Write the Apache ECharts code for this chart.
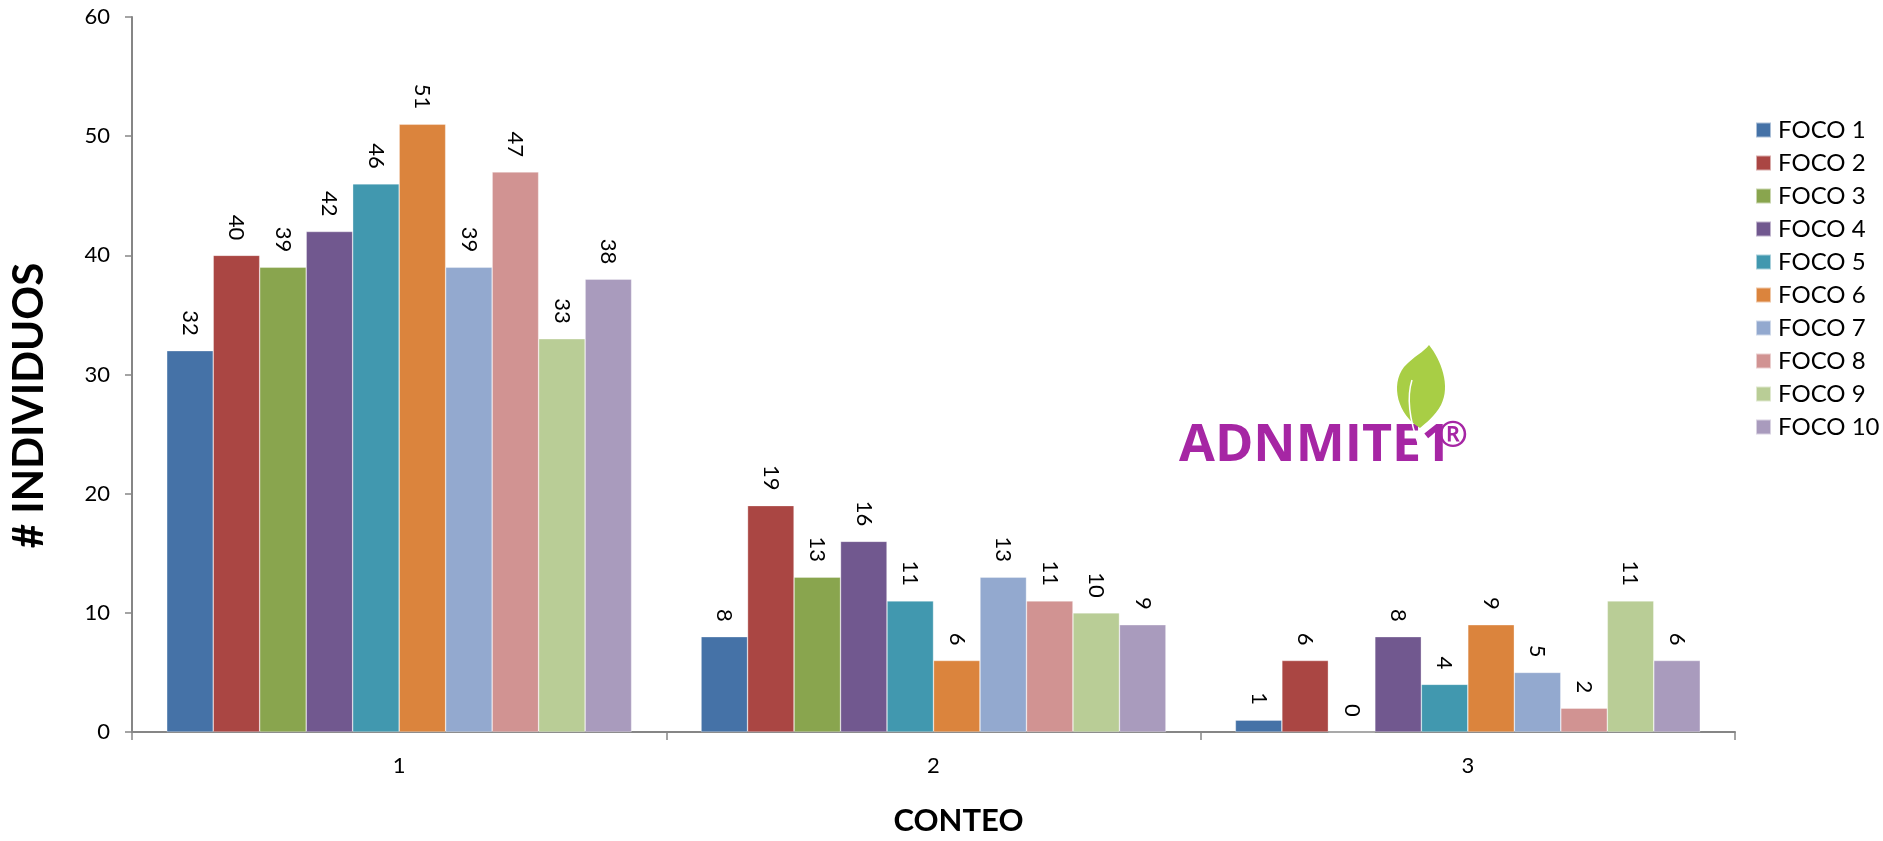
<!DOCTYPE html>
<html>
<head>
<meta charset="utf-8">
<script src="https://cdn.jsdelivr.net/npm/echarts@6.0.0/dist/echarts.min.js"></script>
<style>
  html, body { margin: 0; padding: 0; background: #fff; }
  #chart { width: 1883px; height: 841px; }
</style>
</head>
<body>
<div id="chart"></div>
<script>
const categories = ["1", "2", "3"];
const seriesNames = ["FOCO 1", "FOCO 2", "FOCO 3", "FOCO 4", "FOCO 5", "FOCO 6", "FOCO 7", "FOCO 8", "FOCO 9", "FOCO 10"];
const foco1 = [32, 8, 1];
const foco2 = [40, 19, 6];
const foco3 = [39, 13, 0];
const foco4 = [42, 16, 8];
const foco5 = [46, 11, 4];
const foco6 = [51, 6, 9];
const foco7 = [39, 13, 5];
const foco8 = [47, 11, 2];
const foco9 = [33, 10, 11];
const foco10 = [38, 9, 6];
const seriesValues = [foco1, foco2, foco3, foco4, foco5, foco6, foco7, foco8, foco9, foco10];
const yTicks = [0, 10, 20, 30, 40, 50, 60];

const colors = ["#4572A7", "#AA4643", "#89A54E", "#71588F", "#4198AF", "#DB843D", "#93A9CF", "#D19392", "#B9CD96", "#A99BBD"];
const FONT = "Lato, 'Open Sans', sans-serif";

// leaf of the logo
const LeafShape = echarts.graphic.extendPath(
  "M1420 428 C1398 415 1390 385 1404 367 C1414 356 1424 352 1429 345 C1441 360 1451 386 1441 405 C1435 416 1426 423 1420 428 Z",
  {}
);
echarts.graphic.registerShape("adnLeaf", LeafShape);

const chart = echarts.init(document.getElementById("chart"), null, { renderer: "canvas" });

const series = seriesNames.map((name, i) => ({
  name,
  type: "bar",
  data: seriesValues[i],
  barGap: "0%",
  barCategoryGap: "13%",
  itemStyle: { color: colors[i], borderColor: "rgba(255,255,255,0.55)", borderWidth: 0.6 },
  label: {
    show: true,
    position: "top",
    distance: 15,
    rotate: -90,
    align: "right",
    verticalAlign: "middle",
    color: "#000",
    fontSize: 22,
    fontFamily: FONT
  }
}));

chart.setOption({
  animation: false,
  color: colors,
  textStyle: { fontFamily: FONT },
  grid: { left: 130, right: 148, top: 17, bottom: 101, containLabel: false },
  legend: {
    orient: "vertical",
    left: 1750,
    top: 113,
    itemWidth: 15,
    itemHeight: 15,
    itemGap: 9,
    icon: "rect",
    data: seriesNames,
    textStyle: { fontSize: 24, color: "#000", fontFamily: FONT, padding: [0, 0, 0, 2] }
  },
  xAxis: {
    type: "category",
    data: categories,
    name: "CONTEO",
    nameLocation: "middle",
    nameGap: 73,
    nameTextStyle: { fontSize: 31, fontWeight: "bold", color: "#000", fontFamily: FONT, padding: [0, 0, 0, 50] },
    axisLine: { lineStyle: { color: "#868686", width: 2 } },
    axisTick: { show: true, alignWithLabel: false, length: 8, lineStyle: { color: "#868686", width: 1.5 } },
    axisLabel: { fontSize: 22, color: "#000", margin: 23, fontFamily: FONT },
    splitLine: { show: false }
  },
  yAxis: {
    type: "value",
    min: yTicks[0],
    max: yTicks[yTicks.length - 1],
    interval: 10,
    name: "# INDIVIDUOS",
    nameLocation: "middle",
    nameRotate: 90,
    nameGap: 82,
    nameTextStyle: { fontSize: 42, fontWeight: "bold", color: "#000", fontFamily: FONT, padding: [0, 62, 0, 0] },
    axisLine: { show: true, lineStyle: { color: "#868686", width: 2 } },
    axisTick: { show: true, length: 7, lineStyle: { color: "#868686", width: 1.5 } },
    axisLabel: { fontSize: 22, color: "#000", margin: 22, fontFamily: FONT },
    splitLine: { show: false }
  },
  graphic: [
    {
      type: "text",
      z: 4,
      x: 1179,
      y: 446,
      style: { text: "ADNMITE1", fill: "#A626A4", font: "bold 52px 'Open Sans', sans-serif", align: "left", verticalAlign: "middle" }
    },
    {
      type: "text",
      z: 4,
      x: 1453,
      y: 437,
      style: { text: "®", fill: "#A626A4", font: "bold 36px 'Open Sans', sans-serif", align: "center", verticalAlign: "middle" }
    },
    {
      type: "adnLeaf",
      z: 5,
      style: { fill: "#A8CE45" }
    },
    {
      type: "bezierCurve",
      z: 6,
      shape: { x1: 1412, y1: 380, cpx1: 1404, cpy1: 405, x2: 1419, y2: 446 },
      style: { fill: null, stroke: "#ffffff", lineWidth: 1.5 }
    }
  ],
  series
});
</script>
</body>
</html>
